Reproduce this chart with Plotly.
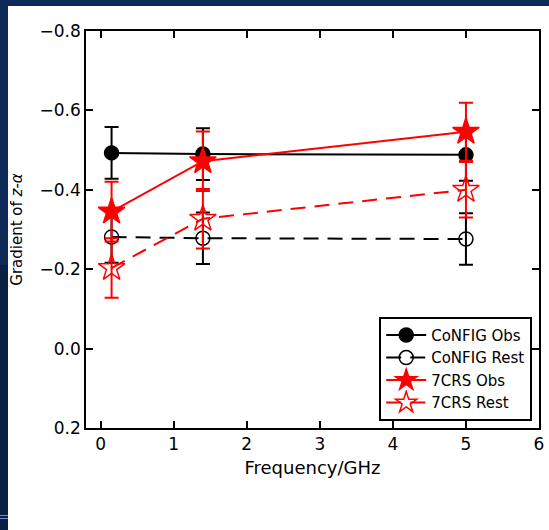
import plotly.graph_objects as go

freq = [0.15, 1.4, 5.0]

config_obs = [-0.493, -0.490, -0.488]
config_obs_err = [0.065, 0.065, 0.065]
config_rest = [-0.281, -0.278, -0.276]
config_rest_err = [0.065, 0.065, 0.065]
crs_obs = [-0.345, -0.472, -0.546]
crs_obs_err = [0.075, 0.075, 0.073]
crs_rest = [-0.203, -0.327, -0.400]
crs_rest_err = [0.075, 0.075, 0.070]

xticks = [0, 1, 2, 3, 4, 5, 6]
yticks = [-0.8, -0.6, -0.4, -0.2, 0.0, 0.2]
yticklabels = ["\u22120.8", "\u22120.6", "\u22120.4", "\u22120.2", "0.0", "0.2"]

FONT = "DejaVu Sans"
fig = go.Figure()

def add(name, y, err, color, dash, symbol, size):
    fig.add_trace(go.Scatter(
        x=freq, y=y, name=name, mode="lines+markers",
        line=dict(color=color, width=2, dash=dash),
        marker=dict(symbol=symbol, size=size, color=color,
                    line=dict(color=color, width=1.5)),
        error_y=dict(type="data", array=err, visible=True,
                     color=color, thickness=2, width=7),
    ))

add("CoNFIG Obs", config_obs, config_obs_err, "black", "solid", "circle", 14)
add("CoNFIG Rest", config_rest, config_rest_err, "black", "15px,9px", "circle-open", 14)
add("7CRS Obs", crs_obs, crs_obs_err, "red", "solid", "star", 20)
add("7CRS Rest", crs_rest, crs_rest_err, "red", "15px,9px", "star-open", 20)

L, R, T, B = 86, 10, 31, 102
W, H = 549, 530
pw, ph = W - L - R, H - T - B

def px_x(x0, x1):
    return (x0 - L) / pw, (x1 - L) / pw

def px_y(y0, y1):
    return 1 - (y1 - T) / ph, 1 - (y0 - T) / ph

shapes = []
lx0, lx1 = px_x(0, 8)
ty0, ty1 = px_y(0, 6)
for (a, b, c) in [(0, 265, "#0d2a57"), (265, 530, "#0a1f44")]:
    y0, y1 = px_y(a, b)
    shapes.append(dict(type="rect", xref="paper", yref="paper", x0=lx0, x1=lx1,
                       y0=y0, y1=y1, fillcolor=c, line=dict(width=0), layer="below"))
fx0, fx1 = px_x(0, W)
shapes.append(dict(type="rect", xref="paper", yref="paper", x0=fx0, x1=fx1,
                   y0=ty0, y1=ty1, fillcolor="#0d2a58", line=dict(width=0), layer="below"))
for yy in (515, 518):
    y0, y1 = px_y(yy, yy + 1)
    shapes.append(dict(type="rect", xref="paper", yref="paper", x0=lx0, x1=lx1,
                       y0=y0, y1=y1, fillcolor="#6f8fd0", line=dict(width=0), layer="below"))

fig.update_layout(
    width=W, height=H,
    margin=dict(l=L, r=R, t=T, b=B, autoexpand=False),
    paper_bgcolor="white", plot_bgcolor="white",
    font=dict(family=FONT, size=17, color="black"),
    showlegend=True,
    legend=dict(x=0.985, y=0.018, xanchor="right", yanchor="bottom",
                bordercolor="black", borderwidth=2, bgcolor="white",
                font=dict(size=15), itemwidth=40, tracegroupgap=0),
    shapes=shapes,
)

fig.update_xaxes(
    range=[-0.2, 6], tickvals=xticks, ticktext=[str(v) for v in xticks],
    automargin=False,
    showgrid=False, zeroline=False, showline=True, linecolor="black", linewidth=1.5,
    mirror="ticks", ticks="inside", ticklen=7, tickwidth=1.5, tickcolor="black",
    title=dict(text="Frequency/GHz", font=dict(size=18), standoff=8),
)
fig.update_yaxes(
    range=[0.2, -0.8], tickvals=yticks, ticktext=yticklabels,
    automargin=False,
    showgrid=False, zeroline=False, showline=True, linecolor="black", linewidth=1.5,
    mirror="ticks", ticks="inside", ticklen=7, tickwidth=1.5, tickcolor="black",
    title=dict(text="Gradient of <i>z</i>-<i>\u03b1</i>", font=dict(size=15), standoff=13),
)

fig.write_html("out.html")
